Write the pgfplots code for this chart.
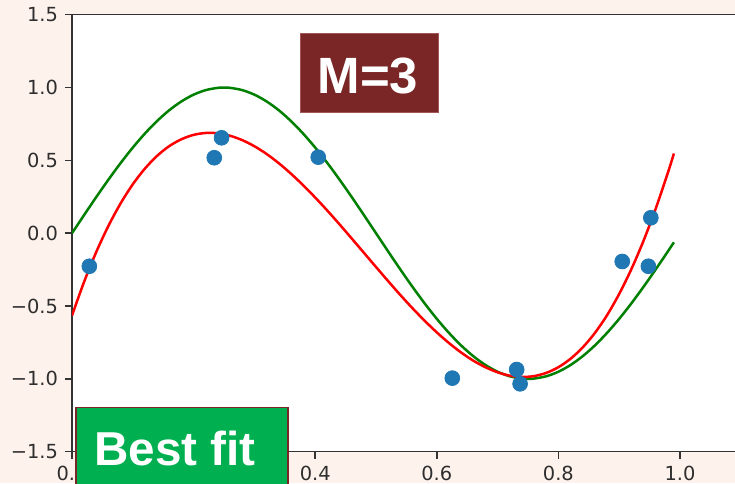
\documentclass[border=0pt]{standalone}
\usepackage{fontspec}
\usepackage{pgfplots}
\pgfplotsset{compat=1.18}
\newfontfamily\dejavu{DejaVu Sans}
\newfontfamily\arialb{Liberation Sans}
\definecolor{bgpink}{HTML}{FEF2EC}
\definecolor{boxred}{HTML}{7B2626}
\definecolor{boxredlight}{HTML}{A35656}
\definecolor{bestgreen}{HTML}{00B050}
\definecolor{mplblue}{HTML}{1F77B4}
\definecolor{mplgreen}{HTML}{008000}
\definecolor{mplred}{HTML}{FF0000}
\begin{document}
\begin{tikzpicture}
\useasboundingbox (0,0) rectangle (367.5pt,241.5pt);
\clip (0,0) rectangle (367.5pt,241.5pt);
\fill[bgpink] (0,0) rectangle (367.5pt,241.5pt);
\begin{axis}[
  at={(36pt,15.65pt)}, anchor=south west,
  scale only axis, width=334.4pt, height=218.5pt,
  xmin=0, xmax=1.1, ymin=-1.5, ymax=1.5,
  axis background/.style={fill=white},
  axis line style={black!80, line width=0.8pt},
  tick style={black!80, line width=0.8pt},
  tick align=outside, major tick length=3.5pt,
  xtick pos=left, ytick pos=left,
  xtick={0,0.2,0.4,0.6,0.8,1.0},
  xticklabels={0.0,,0.4,0.6,0.8,1.0},
  ytick={-1.5,-1,-0.5,0,0.5,1,1.5},
  yticklabels={−1.5,−1.0,−0.5,0.0,0.5,1.0,1.5},
  tick label style={font=\dejavu\fontsize{9.7}{11}\selectfont, text=black!82},
  /pgf/number format/assume math mode=true,
  clip=true,
]
\addplot[only marks, mark=*, mark size=3.7pt, color=mplblue] coordinates {
(0.0285,-0.227) (0.234,0.518) (0.246,0.655) (0.405,0.522) (0.6255,-0.995)
(0.7314,-0.936) (0.737,-1.034) (0.905,-0.194) (0.948,-0.227) (0.952,0.106)
};
\addplot[mplgreen, line width=1.25pt, smooth] coordinates {
(0,0) (0.02,0.1253) (0.04,0.2487) (0.06,0.3681) (0.08,0.4818) (0.10,0.5878)
(0.12,0.6845) (0.14,0.7705) (0.16,0.8443) (0.18,0.9048) (0.20,0.9511)
(0.22,0.9823) (0.24,0.9980) (0.25,1.0) (0.26,0.9980) (0.28,0.9823) (0.30,0.9511)
(0.32,0.9048) (0.34,0.8443) (0.36,0.7705) (0.38,0.6845) (0.40,0.5878)
(0.42,0.4818) (0.44,0.3681) (0.46,0.2487) (0.48,0.1253) (0.50,0)
(0.52,-0.1253) (0.54,-0.2487) (0.56,-0.3681) (0.58,-0.4818) (0.60,-0.5878)
(0.62,-0.6845) (0.64,-0.7705) (0.66,-0.8443) (0.68,-0.9048) (0.70,-0.9511)
(0.72,-0.9823) (0.74,-0.9980) (0.75,-1.0) (0.76,-0.9980) (0.78,-0.9823) (0.80,-0.9511)
(0.82,-0.9048) (0.84,-0.8443) (0.86,-0.7705) (0.88,-0.6845) (0.90,-0.5878)
(0.92,-0.4818) (0.94,-0.3681) (0.96,-0.2487) (0.98,-0.1253) (0.99,-0.0628)
};
\addplot[mplred, line width=1.25pt, smooth] coordinates {
(0,-0.565) (0.02,-0.333) (0.04,-0.128) (0.06,0.051) (0.08,0.205) (0.10,0.336)
(0.12,0.444) (0.14,0.531) (0.16,0.598) (0.18,0.645) (0.20,0.675)
(0.22,0.688) (0.24,0.686) (0.26,0.669) (0.28,0.639) (0.30,0.597)
(0.32,0.544) (0.34,0.481) (0.36,0.409) (0.38,0.330) (0.40,0.245)
(0.42,0.155) (0.44,0.061) (0.46,-0.036) (0.48,-0.134) (0.50,-0.232)
(0.52,-0.329) (0.54,-0.424) (0.56,-0.515) (0.58,-0.601) (0.60,-0.681)
(0.62,-0.754) (0.64,-0.819) (0.66,-0.875) (0.68,-0.920) (0.70,-0.955)
(0.72,-0.978) (0.74,-0.987) (0.76,-0.981) (0.78,-0.959) (0.80,-0.920)
(0.82,-0.862) (0.84,-0.784) (0.86,-0.685) (0.88,-0.563) (0.90,-0.417)
(0.92,-0.247) (0.94,-0.052) (0.96,0.168) (0.98,0.414) (0.99,0.547)
};
\end{axis}
% annotation boxes
\filldraw[fill=boxred, draw=boxredlight, line width=0.5pt] (150pt,185pt) rectangle (219.35pt,224.5pt);
\node[anchor=base, inner sep=0pt, text=white, font=\arialb\bfseries\fontsize{25.5}{28}\selectfont] at (183.95pt,194.85pt) {M=3};
\filldraw[fill=bestgreen, draw=boxred, line width=0.6pt] (38pt,-5pt) rectangle (144pt,37.85pt);
\node[anchor=base west, inner sep=0pt, text=white, font=\arialb\bfseries\fontsize{23.8}{26}\selectfont] at (47pt,9pt) {Best fit};
\end{tikzpicture}
\end{document}
